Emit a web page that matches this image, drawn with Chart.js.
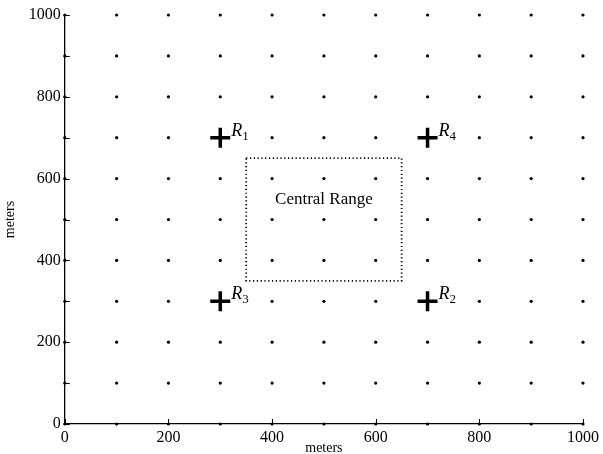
<!DOCTYPE html>
<html>
<head>
<meta charset="utf-8">
<script src="https://cdn.jsdelivr.net/npm/chart.js@4/dist/chart.umd.min.js"></script>
<style>
  html, body { margin: 0; padding: 0; background: #fff; }
  #wrap { width: 603px; height: 454px; }
</style>
</head>
<body>
<div id="wrap"><canvas id="field"></canvas></div>
<script>
// grid of sample positions (meters)
var gridX = [0, 100, 200, 300, 400, 500, 600, 700, 800, 900, 1000];
var gridY = [0, 100, 200, 300, 400, 500, 600, 700, 800, 900, 1000];

// receivers
var recvNames = ["1", "4", "3", "2"];
var recvX = [300, 700, 300, 700];
var recvY = [700, 700, 300, 300];

// central range box
var rangeX = [350, 650, 650, 350, 350];
var rangeY = [650, 650, 350, 350, 650];
var rangeLabel = "Central Range";
var rangeLabelPos = [500, 550];

var axisTicks = [0, 200, 400, 600, 800, 1000];

var recvSet = {};
for (var k = 0; k < recvX.length; k++) recvSet[recvX[k] + "," + recvY[k]] = true;

var gridPts = [];
for (var i = 0; i < gridX.length; i++) {
    for (var j = 0; j < gridY.length; j++) {
        if (recvSet[gridX[i] + "," + gridY[j]]) continue;
        gridPts.push({x: gridX[i], y: gridY[j]});
    }
}
var recvPts = recvX.map(function(v, n) { return {x: v, y: recvY[n]}; });
var rangePts = rangeX.map(function(v, n) { return {x: v, y: rangeY[n]}; });

var serif = "'Liberation Serif', 'DejaVu Serif', serif";

// inward tick marks: every 200 on x, every 100 on y
var tickPlugin = {
    id: 'inTicks',
    afterDatasetsDraw: function(chart) {
        var ctx = chart.ctx, sx = chart.scales.x, sy = chart.scales.y;
        var x0 = sx.getPixelForValue(0), y0 = sy.getPixelForValue(0);
        ctx.save();
        ctx.strokeStyle = '#000';
        ctx.lineWidth = 1;
        ctx.beginPath();
        axisTicks.forEach(function(v) {
            var px = Math.round(sx.getPixelForValue(v)) + 0.5;
            ctx.moveTo(px, y0 + 1);
            ctx.lineTo(px, y0 - 5);
        });
        gridY.forEach(function(v) {
            var py = Math.round(sy.getPixelForValue(v)) + 0.5;
            ctx.moveTo(x0 - 1, py);
            ctx.lineTo(x0 + 5, py);
        });
        ctx.stroke();
        ctx.restore();
    }
};

// text labels drawn on top of the data
var labelPlugin = {
    id: 'labels',
    afterDatasetsDraw: function(chart) {
        var ctx = chart.ctx, sx = chart.scales.x, sy = chart.scales.y;
        ctx.save();
        ctx.fillStyle = '#000';
        ctx.textBaseline = 'alphabetic';
        ctx.textAlign = 'center';
        ctx.font = "17px " + serif;
        ctx.fillText(rangeLabel, sx.getPixelForValue(rangeLabelPos[0]), sy.getPixelForValue(rangeLabelPos[1]) + 5);
        ctx.textAlign = 'left';
        for (var n = 0; n < recvNames.length; n++) {
            var px = sx.getPixelForValue(recvX[n]) + 11;
            var py = sy.getPixelForValue(recvY[n]) - 2;
            ctx.font = "italic 18px " + serif;
            ctx.fillText("R", px, py);
            var w = ctx.measureText("R").width;
            ctx.font = "13px " + serif;
            ctx.fillText(recvNames[n], px + w, py + 4);
        }
        ctx.restore();
    }
};

var axisOpts = function(title, titlePad) {
    return {
        type: 'linear', min: 0, max: 1000,
        afterBuildTicks: function(axis) {
            axis.ticks = axisTicks.map(function(v) { return {value: v}; });
        },
        border: {display: true, color: '#000', width: 1.3},
        grid: {display: true, drawOnChartArea: false, drawTicks: false},
        ticks: {
            color: '#000', font: {family: serif, size: 16}, padding: 4,
            callback: function(v) { return String(v); }
        },
        title: {display: true, text: title, color: '#000', font: {family: serif, size: 14}, padding: titlePad}
    };
};

var chart = new Chart(document.getElementById('field'), {
    type: 'scatter',
    data: {
        datasets: [
            {
                data: gridPts,
                pointRadius: 1.6, pointHoverRadius: 1.6,
                backgroundColor: '#000', borderWidth: 0
            },
            {
                data: rangePts,
                showLine: true, pointRadius: 0,
                borderColor: '#000', borderWidth: 1.8, borderDash: [1.2, 2.6]
            },
            {
                data: recvPts,
                pointStyle: 'cross', pointRadius: 10, pointHoverRadius: 10,
                borderColor: '#000', borderWidth: 3.5
            }
        ]
    },
    options: {
        responsive: true,
        maintainAspectRatio: false,
        animation: false,
        clip: false,
        layout: {padding: {top: 15, right: 4, left: 2, bottom: -3}},
        plugins: {legend: {display: false}, tooltip: {enabled: false}},
        scales: {
            x: axisOpts('meters', {top: -11, bottom: 0}),
            y: axisOpts('meters', {top: 0, bottom: 6})
        }
    },
    plugins: [tickPlugin, labelPlugin]
});
</script>
</body>
</html>
